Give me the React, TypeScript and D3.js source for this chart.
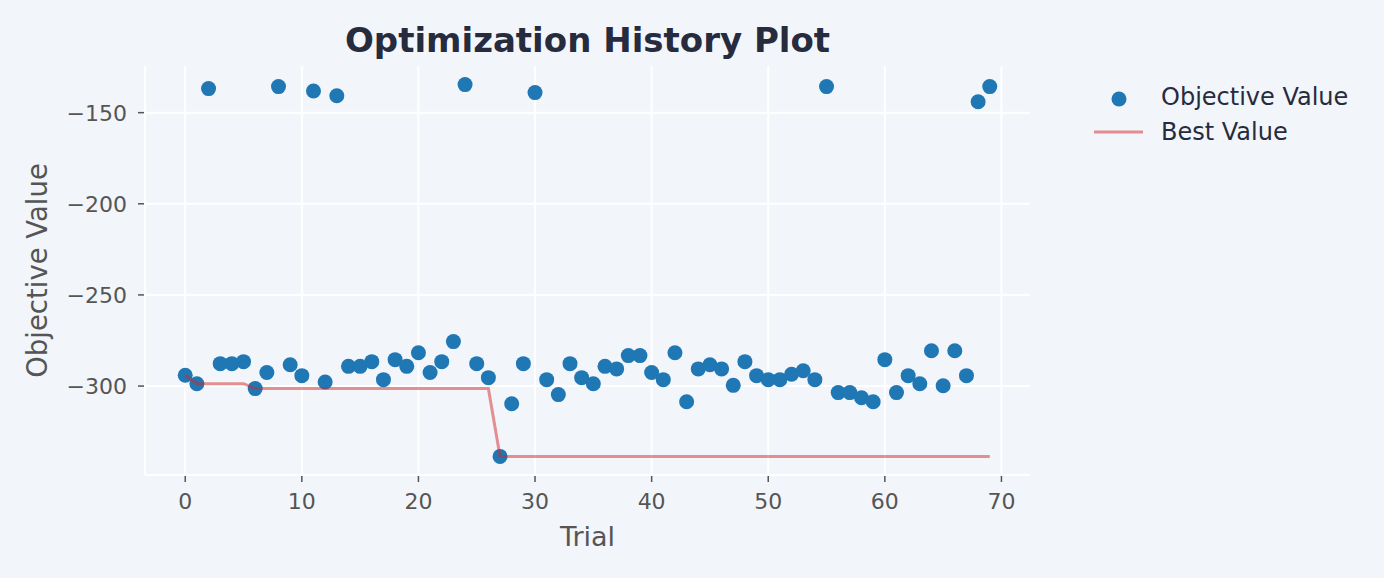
import React, { useEffect } from 'react';
import * as d3 from 'd3';

// objective value of every trial, in trial order
const trials = d3.range(0, 70);
const objectiveValues = [
  -294.1, -298.7, -136.8, -287.7, -287.7, -286.6, -301.4, -292.6, -135.7, -288.3,
  -294.3, -138.1, -297.8, -140.7, -289.2, -289.2, -286.6, -296.5, -285.5, -289.2,
  -281.7, -292.6, -286.6, -275.6, -134.6, -287.7, -295.4, -338.6, -309.7, -287.7,
  -139.0, -296.5, -304.7, -287.7, -295.4, -298.7, -289.2, -290.6, -283.3, -283.3,
  -292.6, -296.5, -281.7, -308.6, -290.6, -288.3, -290.6, -299.6, -286.6, -294.3,
  -296.5, -296.5, -293.5, -291.6, -296.5, -135.7, -303.6, -303.6, -306.4, -308.6,
  -285.5, -303.6, -294.3, -298.7, -280.6, -299.8, -280.6, -294.3, -144.0, -135.7,
];
const xTicks = [0, 10, 20, 30, 40, 50, 60, 70];
const yTicks = [-150, -200, -250, -300];

const W = 1384;
const H = 578;
const BG = '#f2f5fa';
const FONT = 'DejaVu Sans, sans-serif';
const plot = { left: 145, right: 1030, top: 66, bottom: 475 };

const App = () => {
  useEffect(() => {
    document.body.style.margin = '0';
    document.body.style.background = BG;
  }, []);

  // running minimum of the objective
  const bestValues = objectiveValues.map((_, i) => d3.min(objectiveValues.slice(0, i + 1)) as number);

  const xPad = (d3.max(trials)! - d3.min(trials)!) * 0.05;
  const x = d3.scaleLinear()
    .domain([d3.min(trials)! - xPad, d3.max(trials)! + xPad])
    .range([plot.left, plot.right]);
  const [yMin, yMax] = d3.extent(objectiveValues) as [number, number];
  const yPad = (yMax - yMin) * 0.05;
  const y = d3.scaleLinear()
    .domain([yMin - yPad, yMax + yPad])
    .range([plot.bottom, plot.top]);

  const bestLine = d3.line<number>()
    .x((_, i) => x(trials[i]))
    .y(d => y(d));

  const tickColor = '#555555';
  const textDark = '#262b3d';

  return (
    <svg width={W} height={H} style={{ display: 'block', background: BG }}>
      <rect x={0} y={0} width={W} height={H} fill={BG} />

      {/* grid */}
      {xTicks.map(t => (
        <line key={`gx${t}`} x1={x(t)} x2={x(t)} y1={plot.top} y2={plot.bottom} stroke="#ffffff" strokeWidth={2} />
      ))}
      {yTicks.map(t => (
        <line key={`gy${t}`} x1={plot.left} x2={plot.right} y1={y(t)} y2={y(t)} stroke="#ffffff" strokeWidth={2} />
      ))}

      {/* spines */}
      <line x1={plot.left} x2={plot.left} y1={plot.top} y2={plot.bottom} stroke="#ffffff" strokeWidth={2} />
      <line x1={plot.left} x2={plot.right} y1={plot.bottom} y2={plot.bottom} stroke="#ffffff" strokeWidth={2} />

      {/* x axis ticks */}
      {xTicks.map(t => (
        <g key={`xt${t}`}>
          <line x1={x(t)} x2={x(t)} y1={plot.bottom + 1} y2={plot.bottom + 7} stroke={tickColor} strokeWidth={1.5} />
          <text x={x(t)} y={509} textAnchor="middle" fontFamily={FONT} fontSize={22} fill={tickColor}>{t}</text>
        </g>
      ))}
      {/* y axis ticks */}
      {yTicks.map(t => (
        <g key={`yt${t}`}>
          <line x1={plot.left - 7} x2={plot.left - 1} y1={y(t)} y2={y(t)} stroke={tickColor} strokeWidth={1.5} />
          <text x={127} y={y(t) + 8} textAnchor="end" fontFamily={FONT} fontSize={22} fill={tickColor}>
            {d3.format('d')(t)}
          </text>
        </g>
      ))}

      {/* axis labels */}
      <text x={(plot.left + plot.right) / 2} y={546} textAnchor="middle" fontFamily={FONT} fontSize={27} fill={tickColor}>Trial</text>
      <text
        transform={`translate(47,${(plot.top + plot.bottom) / 2}) rotate(-90)`}
        textAnchor="middle" fontFamily={FONT} fontSize={27.5} fill={tickColor}
      >Objective Value</text>

      {/* title */}
      <text x={(plot.left + plot.right) / 2} y={52} textAnchor="middle" fontFamily={FONT} fontSize={34} fontWeight="bold" fill={textDark}>
        Optimization History Plot
      </text>

      {/* trials */}
      {objectiveValues.map((v, i) => (
        <circle key={`p${i}`} cx={x(trials[i])} cy={y(v)} r={7.5} fill="#1f77b4" />
      ))}

      {/* best value so far */}
      <path d={bestLine(bestValues) ?? ''} fill="none" stroke="#d62728" strokeOpacity={0.5} strokeWidth={3} />

      {/* legend */}
      <circle cx={1119} cy={99} r={7.5} fill="#1f77b4" />
      <text x={1161} y={105} fontFamily={FONT} fontSize={24} fill={textDark}>Objective Value</text>
      <line x1={1094} x2={1143} y1={132} y2={132} stroke="#d62728" strokeOpacity={0.5} strokeWidth={3} />
      <text x={1161} y={140} fontFamily={FONT} fontSize={24} fill={textDark}>Best Value</text>
    </svg>
  );
};

export default App;
